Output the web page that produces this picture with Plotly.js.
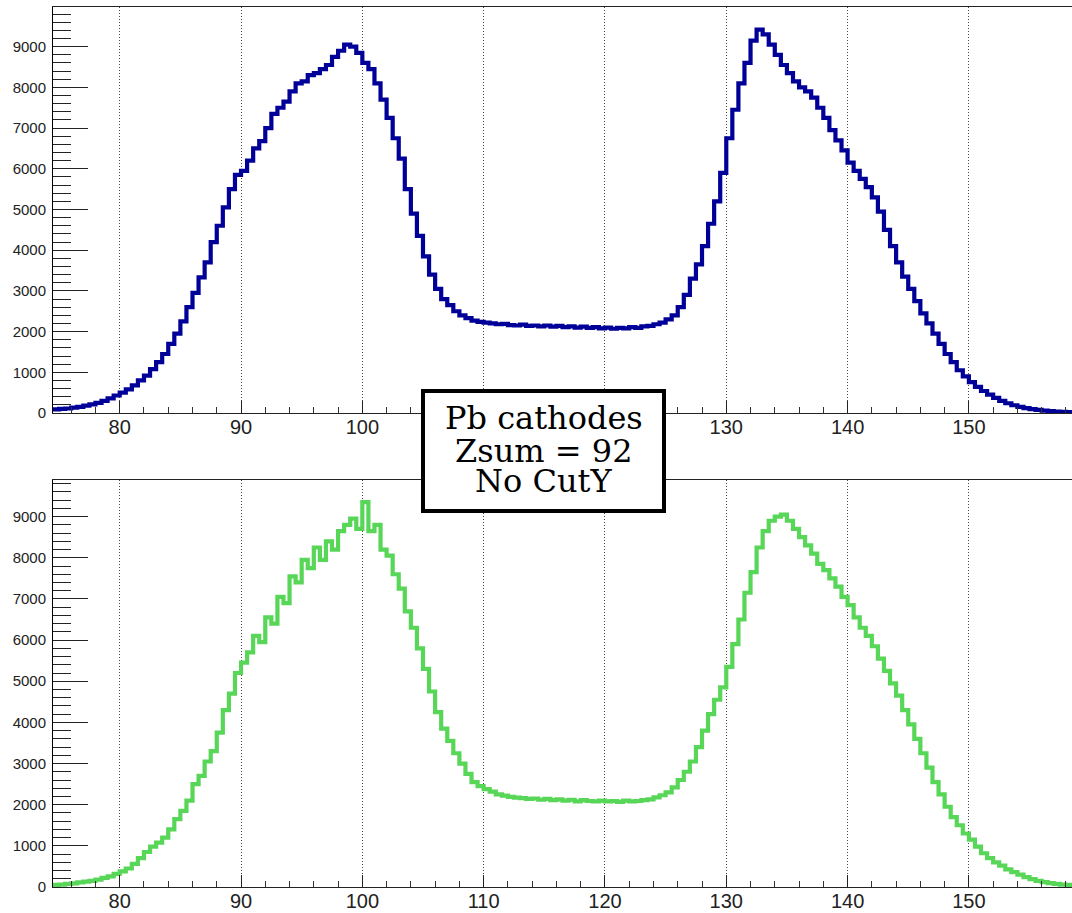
<!DOCTYPE html>
<html>
<head>
<meta charset="utf-8">
<script src="https://cdn.plot.ly/plotly-3.0.1.min.js"></script>
<style>
html,body{margin:0;padding:0;background:#fff;}
#chart{width:1072px;height:913px;}
</style>
</head>
<body>
<div id="chart"></div>
<script>
// Histogram binning
const binLow = 74.5;
const binWidth = 0.5;

// Top panel (blue) counts, bins from 74.5 to 158.5
const countsTop = [
  90,
  100,110, 130,150, 180,210, 250,300, 360,430,
  500,580, 680,800, 920,1080, 1250,1450, 1700,1950,
  2250,2600, 2950,3330, 3700,4200, 4600,5050, 5500,5850,
  5950,6200, 6500,6680, 7000,7350, 7500,7650, 7900,8100,
  8150,8300, 8350,8450, 8550,8750, 8900,9050, 9000,8850,
  8600,8450, 8100,7700, 7250,6750, 6250,5500, 4900,4350,
  3850,3400, 3050,2800, 2650,2500, 2400,2330, 2270,2240,
  2220,2200, 2180,2190, 2160,2150, 2170,2140, 2150,2130,
  2150,2120, 2140,2110, 2130,2100, 2120,2090, 2110,2080,
  2100,2070, 2090,2080, 2110,2090, 2130,2140, 2180,2220,
  2300,2400, 2600,2900, 3300,3650, 4100,4650, 5200,5900,
  6750,7450, 8100,8600, 9150,9420, 9300,9050, 8800,8550,
  8350,8150, 8000,7900, 7750,7500, 7250,6950, 6700,6450,
  6150,5950, 5750,5550, 5300,4950, 4500,4100, 3700,3350,
  3050,2750, 2450,2200, 1950,1700, 1450,1250, 1050,900,
  760,640, 540,450, 370,300, 240,190, 150,120,
  95,75, 60,45, 35,28,
  22
];

// Bottom panel (green) counts, same binning
const countsBottom = [
  50,
  60,75, 90,110, 130,150, 180,220, 260,320,
  380,450, 560,700, 850,980, 1080,1200, 1400,1650,
  1850,2100, 2500,2700, 3050,3300, 3750,4300, 4700,5200,
  5450,5700, 6100,5950, 6550,6400, 7050,6900, 7550,7400,
  7950,7750, 8250,7950, 8400,8200, 8650,8800, 8950,8700,
  9350,8650, 8800,8200, 8050,7600, 7250,6700, 6300,5800,
  5300,4750, 4250,3850, 3550,3250, 3000,2750, 2550,2450,
  2380,2320, 2250,2220, 2190,2170, 2160,2140, 2150,2120,
  2140,2110, 2130,2100, 2120,2080, 2110,2090, 2080,2100,
  2080,2090, 2070,2100, 2080,2090, 2110,2130, 2180,2230,
  2300,2420, 2600,2800, 3050,3400, 3800,4200, 4550,4850,
  5350,5900, 6500,7150, 7650,8250, 8650,8900, 9000,9050,
  8900,8700, 8500,8300, 8100,7850, 7700,7500, 7300,7050,
  6850,6550, 6300,6100, 5850,5550, 5250,4950, 4650,4300,
  3950,3600, 3250,2900, 2550,2250, 1950,1700, 1500,1300,
  1150,980, 820,700, 600,520, 430,360, 300,240,
  190,150, 120,95, 75,60,
  50
];

const xTickVals = [80, 90, 100, 110, 120, 130, 140, 150];
const xTickText = ["80", "90", "100", "110", "120", "130", "140", "150"];
// labels of the upper panel that sit under the text box are not visible
const xTickHiddenTop = ["110", "120"];
const yTickVals = [0, 1000, 2000, 3000, 4000, 5000, 6000, 7000, 8000, 9000];
const yTickText = ["0", "1000", "2000", "3000", "4000", "5000", "6000", "7000", "8000", "9000"];
const boxLines = ["Pb cathodes", "Zsum = 92", "No CutY"];

function stepXY(counts) {
  const x = [], y = [];
  for (let i = 0; i < counts.length; i++) {
    x.push(binLow + i * binWidth);
    y.push(counts[i]);
  }
  x.push(binLow + counts.length * binWidth);
  y.push(counts[counts.length - 1]);
  return {x, y};
}

const histTop = stepXY(countsTop);
const histBottom = stepXY(countsBottom);

const traces = [
  {x: histTop.x, y: histTop.y, type: 'scatter', mode: 'lines', line: {shape: 'hv', color: '#000099', width: 4.2}, xaxis: 'x', yaxis: 'y', hoverinfo: 'skip'},
  {x: histBottom.x, y: histBottom.y, type: 'scatter', mode: 'lines', line: {shape: 'hv', color: '#58d658', width: 4.2}, xaxis: 'x2', yaxis: 'y2', hoverinfo: 'skip'}
];

const xRange = [binLow, binLow + countsTop.length * binWidth];

function xAxis(anchor, texts) {
  return {
    domain: [53/1072, 1], range: xRange, anchor: anchor,
    tickmode: 'array', tickvals: xTickVals, ticktext: texts,
    ticks: 'inside', ticklen: 12, tickwidth: 1, tickcolor: '#222',
    minor: {dtick: 2, tick0: 0, ticks: 'inside', ticklen: 6, tickcolor: '#333', tickwidth: 1, showgrid: false},
    showline: true, linecolor: '#222', linewidth: 1, mirror: true,
    showgrid: true, gridcolor: '#444', gridwidth: 1, griddash: '1px,2px',
    zeroline: false,
    tickfont: {family: 'Liberation Sans, Arial, sans-serif', size: 20, color: '#222'},
    ticklabelstandoff: -4
  };
}
function yAxis(domain, range, anchor) {
  return {
    domain: domain, range: range, anchor: anchor,
    tickmode: 'array', tickvals: yTickVals, ticktext: yTickText,
    ticks: 'inside', ticklen: 35, tickwidth: 1, tickcolor: '#222',
    minor: {dtick: 200, tick0: 0, ticks: 'inside', ticklen: 18, tickcolor: '#222', tickwidth: 1, showgrid: false},
    showline: true, linecolor: '#000', linewidth: 1,
    showgrid: false, zeroline: false,
    tickfont: {family: 'Liberation Sans, Arial, sans-serif', size: 15, color: '#222'},
    ticklabelstandoff: 3
  };
}

const topTexts = xTickText.map(t => xTickHiddenTop.includes(t) ? '' : t);

const layout = {
  width: 1072, height: 913,
  margin: {l: 0, r: 0, t: 0, b: 0},
  paper_bgcolor: '#fff', plot_bgcolor: '#fff',
  showlegend: false,
  xaxis: xAxis('y', topTexts),
  yaxis: yAxis([(913-413)/913, (913-7)/913], [0, 9975], 'x'),
  xaxis2: xAxis('y2', xTickText),
  yaxis2: yAxis([(913-887)/913, (913-480)/913], [0, 9890], 'x2'),
  shapes: [
    {type: 'rect', xref: 'paper', yref: 'paper', x0: 423/1072, x1: 664/1072, y0: 1-511/913, y1: 1-391/913,
     line: {color: '#000', width: 4}, fillcolor: '#fff', layer: 'above'}
  ],
  annotations: boxLines.map((t, i) => ({
    text: t, xref: 'paper', yref: 'paper', x: 543.5/1072,
    y: 1 - [418, 450.5, 481][i]/913, xanchor: 'center', yanchor: 'middle',
    showarrow: false, font: {family: 'DejaVu Serif, serif', size: 32, color: '#000'}
  }))
};

Plotly.newPlot('chart', traces, layout, {staticPlot: true, displayModeBar: false});
</script>
</body>
</html>
